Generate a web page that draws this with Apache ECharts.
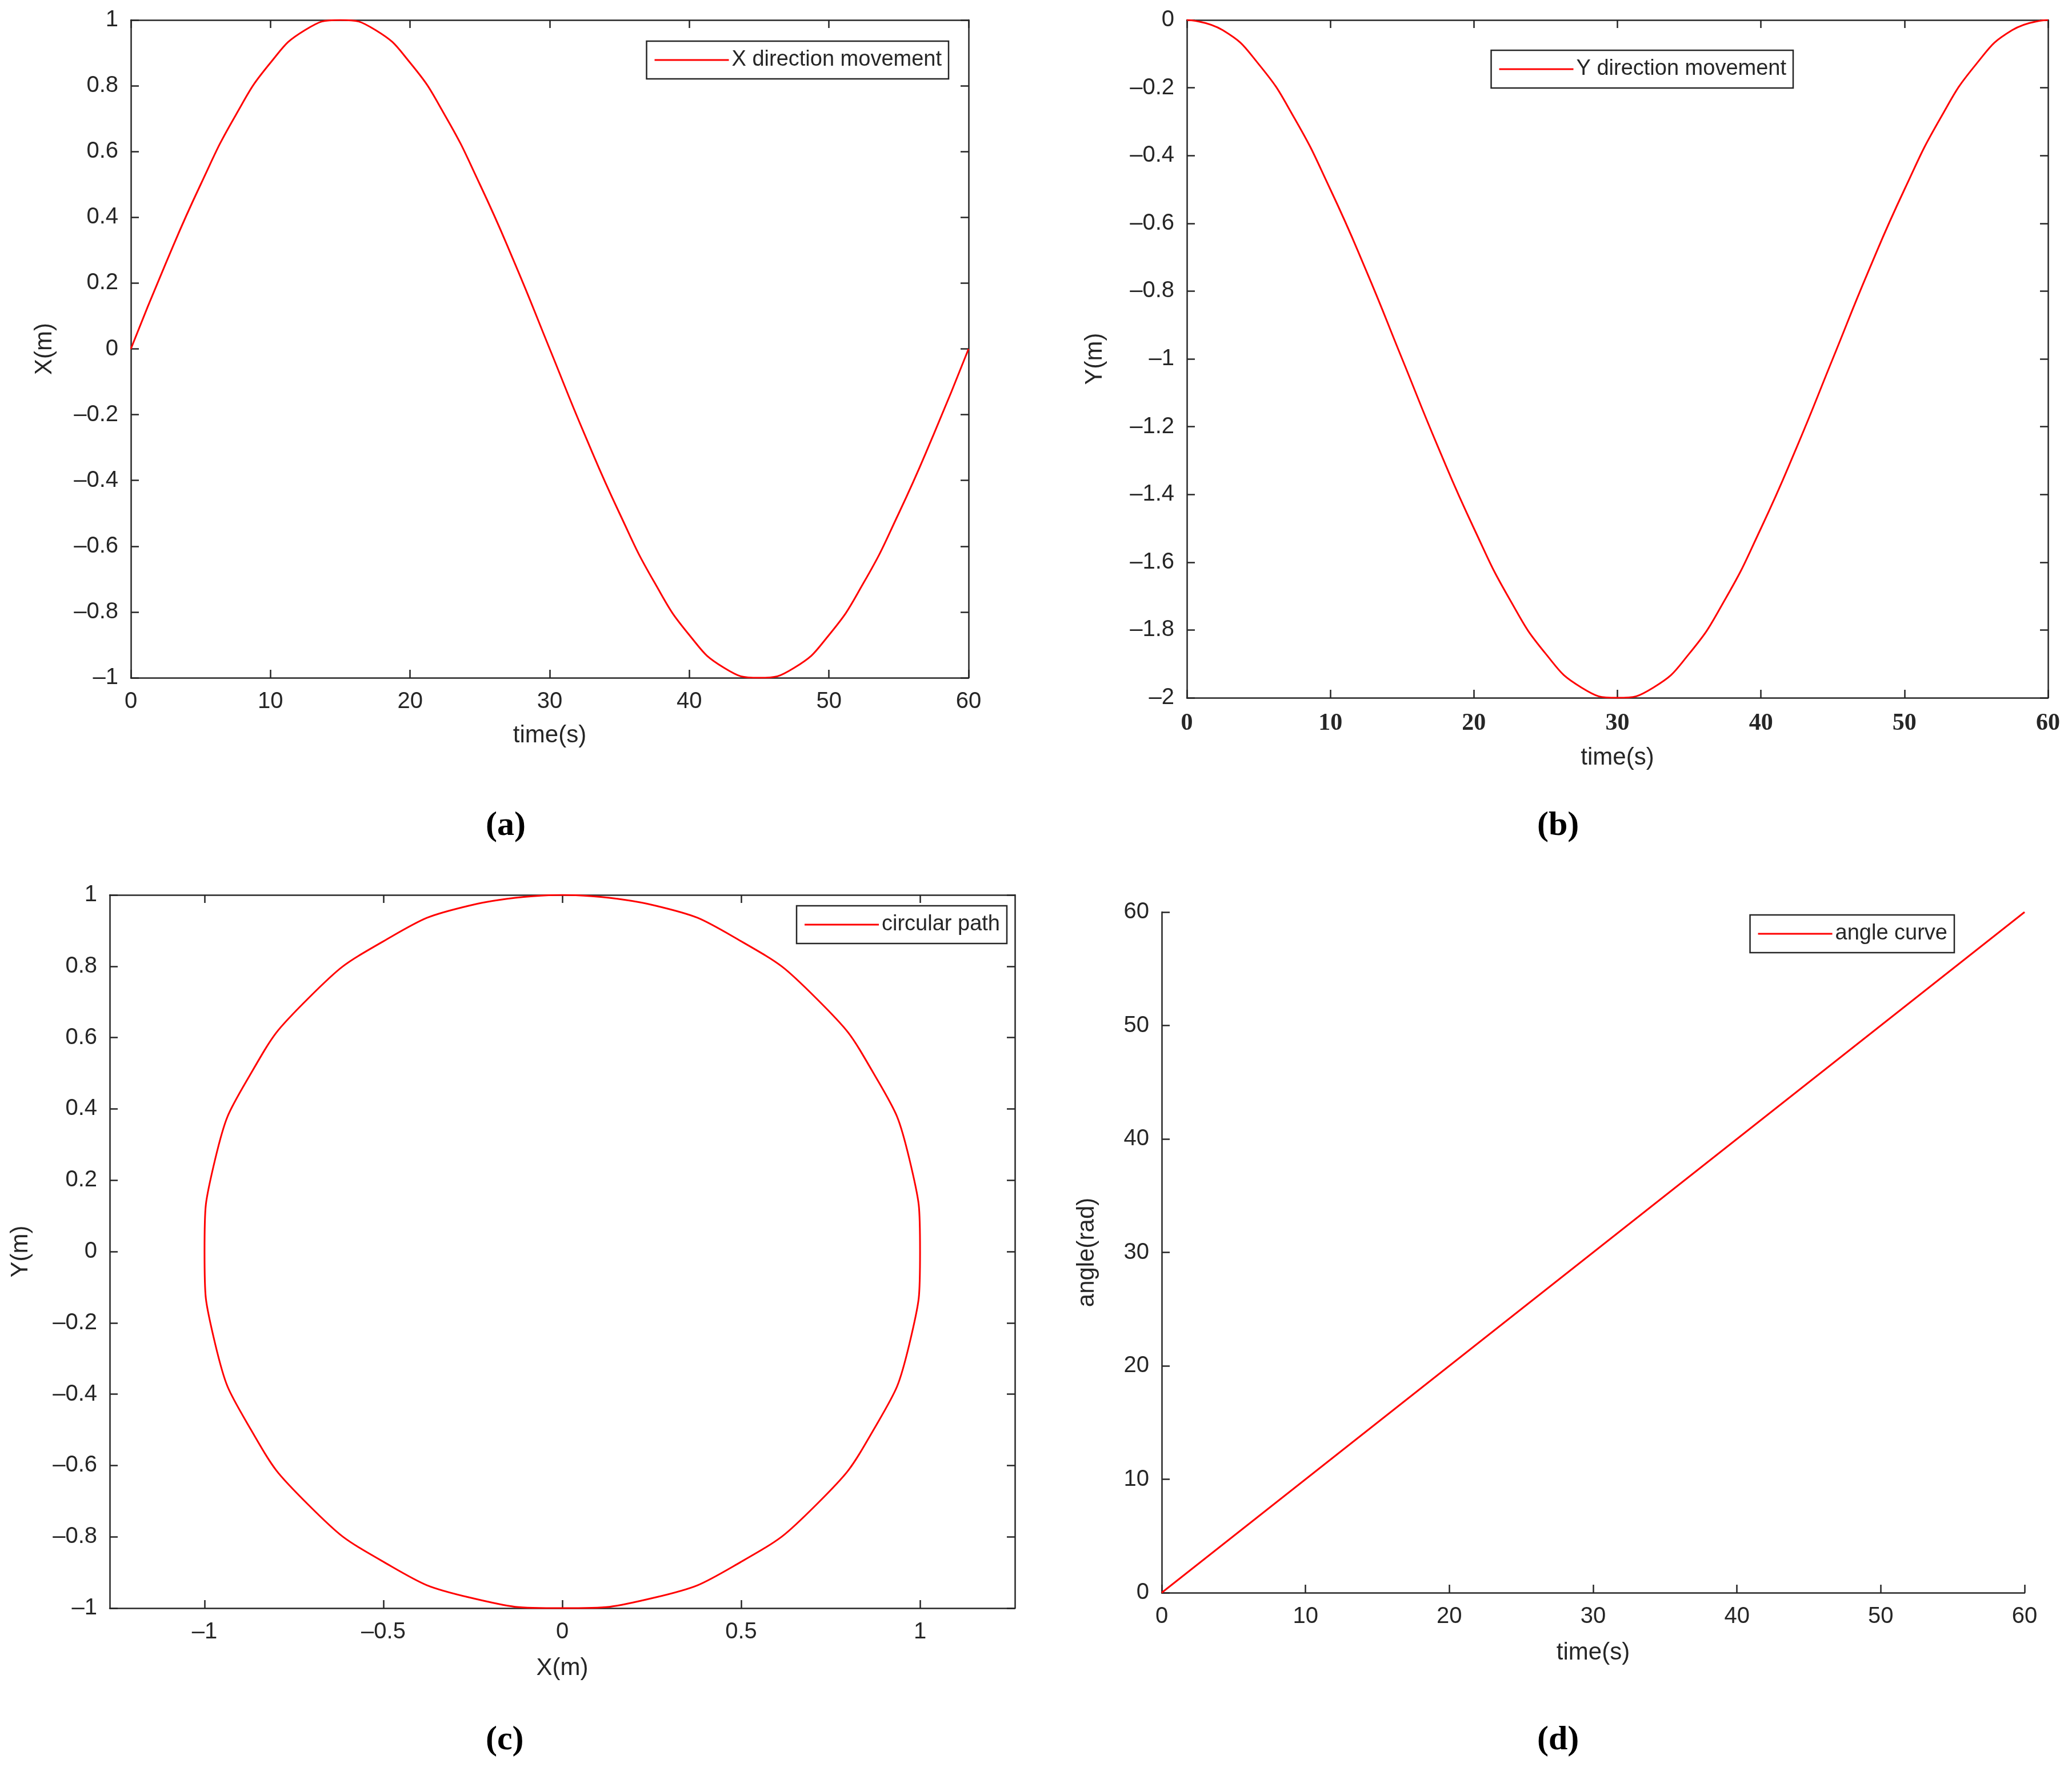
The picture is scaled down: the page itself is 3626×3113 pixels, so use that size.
<!DOCTYPE html>
<html><head><meta charset="utf-8">
<script src="https://cdn.jsdelivr.net/npm/echarts@6/dist/echarts.min.js"></script>
<style>html,body{margin:0;background:#fff}#c{width:3626px;height:3113px}</style>
</head><body><div id="c"></div>
<script>
// values
var timeS = [0,2.5,5,7.5,10,12.5,15,17.5,20,22.5,25,27.5,30,32.5,35,37.5,40,42.5,45,47.5,50,52.5,55,57.5,60];
var xMove = [0,0.26,0.5,0.71,0.87,0.97,1,0.97,0.87,0.71,0.5,0.26,0,-0.26,-0.5,-0.71,-0.87,-0.97,-1,-0.97,-0.87,-0.71,-0.5,-0.26,0];
var yMove = [0,-0.03,-0.13,-0.29,-0.5,-0.74,-1,-1.26,-1.5,-1.71,-1.87,-1.97,-2,-1.97,-1.87,-1.71,-1.5,-1.26,-1,-0.74,-0.5,-0.29,-0.13,-0.03,0];
var circX = [0,0.26,0.5,0.71,0.87,0.97,1,0.97,0.87,0.71,0.5,0.26,0,-0.26,-0.5,-0.71,-0.87,-0.97,-1,-0.97,-0.87,-0.71,-0.5,-0.26,0];
var circY = [1,0.97,0.87,0.71,0.5,0.26,0,-0.26,-0.5,-0.71,-0.87,-0.97,-1,-0.97,-0.87,-0.71,-0.5,-0.26,0,0.26,0.5,0.71,0.87,0.97,1];
var angT = [0,60];
var angV = [0,60];

var ax = '#262626', red = '#ff0000';
var font = 'Arial, "Liberation Sans", sans-serif';
function fmt(v){ v = Math.round(v*100)/100; return v < 0 ? '\u2013' + (-v) : '' + v; }
function pair(arrA, arrB){ return arrA.map(function(a,i){ return [a, arrB[i]]; }); }

function mainAxis(gi, o){
    var base = {
        type:'value', gridIndex:gi, splitLine:{show:false},
        axisLine:{onZero:false, lineStyle:{color:ax, width:2.5}},
        axisTick:{inside:true, length:14, lineStyle:{color:ax, width:2.5}},
        axisLabel:{color:ax, fontSize:40, fontFamily:font, formatter:fmt, margin:22},
        nameTextStyle:{color:ax, fontSize:42, fontFamily:font},
        nameLocation:'middle'
    };
    return Object.assign(base, o);
}
function boxAxis(gi, o){
    return Object.assign({
        type:'value', gridIndex:gi, splitLine:{show:false},
        axisLine:{onZero:false, lineStyle:{color:ax, width:2.5}},
        axisTick:{inside:true, length:14, lineStyle:{color:ax, width:2.5}},
        axisLabel:{show:false}
    }, o);
}
function legend(name, right, top){
    return {data:[name], right:right, top:top, orient:'vertical',
        icon:'rect', itemWidth:130, itemHeight:3, itemGap:10,
        borderColor:ax, borderWidth:2.5, padding:[14,12,14,14],
        textStyle:{color:ax, fontSize:38, fontFamily:font}};
}
function line(name, data, xi, smooth){
    return {name:name, type:'line', xAxisIndex:xi, yAxisIndex:xi, data:data,
        symbol:'none', smooth:smooth, lineStyle:{color:red, width:3}, itemStyle:{color:red}};
}
var tickBold = {color:ax, fontSize:42, fontFamily:'"Liberation Serif", serif', fontWeight:'bold', formatter:fmt, margin:24};

var option = {
    backgroundColor:'#fff',
    animation:false,
    grid:[
        {left:229, width:1466, top:35, height:1151},
        {left:2077, width:1507, top:35, height:1186},
        {left:192, width:1584, top:1566, height:1248},
        {left:2033, width:1510, top:1596, height:1191}
    ],
    xAxis:[
        mainAxis(0,{min:0,max:60,interval:10,name:'time(s)',nameGap:80}),
        mainAxis(1,{min:0,max:60,interval:10,name:'time(s)',nameGap:84,axisLabel:tickBold}),
        mainAxis(2,{min:-1.265,max:1.265,name:'X(m)',nameGap:84,
            axisTick:{inside:true,length:14,lineStyle:{color:ax,width:2.5},customValues:[-1,-0.5,0,0.5,1]},
            axisLabel:{color:ax,fontSize:40,fontFamily:font,formatter:fmt,margin:22,customValues:[-1,-0.5,0,0.5,1]}}),
        mainAxis(3,{min:0,max:60,interval:10,name:'time(s)',nameGap:84}),
        boxAxis(0,{position:'top',min:0,max:60,interval:10}),
        boxAxis(1,{position:'top',min:0,max:60,interval:10}),
        boxAxis(2,{position:'top',min:-1.265,max:1.265,axisTick:{inside:true,length:14,lineStyle:{color:ax,width:2.5},customValues:[-1,-0.5,0,0.5,1]}})
    ],
    yAxis:[
        mainAxis(0,{min:-1,max:1,interval:0.2,name:'X(m)',nameGap:130}),
        mainAxis(1,{min:-2,max:0,interval:0.2,name:'Y(m)',nameGap:140}),
        mainAxis(2,{min:-1,max:1,interval:0.2,name:'Y(m)',nameGap:135}),
        mainAxis(3,{min:0,max:60,interval:10,name:'angle(rad)',nameGap:110}),
        boxAxis(0,{position:'right',min:-1,max:1,interval:0.2}),
        boxAxis(1,{position:'right',min:-2,max:0,interval:0.2}),
        boxAxis(2,{position:'right',min:-1,max:1,interval:0.2})
    ],
    legend:[
        legend('X direction movement', 1966, 72),
        legend('Y direction movement', 488, 88),
        legend('circular path', 1864, 1585),
        legend('angle curve', 206, 1601)
    ],
    series:[
        line('X direction movement', pair(timeS, xMove), 0, true),
        line('Y direction movement', pair(timeS, yMove), 1, true),
        line('circular path', pair(circX, circY), 2, true),
        line('angle curve', pair(angT, angV), 3, false)
    ],
    graphic:[
        {type:'text', left:850, top:1415, style:{text:'(a)', font:'bold 60px "Liberation Serif", serif', fill:'#000'}},
        {type:'text', left:2690, top:1415, style:{text:'(b)', font:'bold 60px "Liberation Serif", serif', fill:'#000'}},
        {type:'text', left:850, top:3015, style:{text:'(c)', font:'bold 60px "Liberation Serif", serif', fill:'#000'}},
        {type:'text', left:2690, top:3015, style:{text:'(d)', font:'bold 60px "Liberation Serif", serif', fill:'#000'}}
    ]
};
// the box axes have no series; bind them to the main grids' ranges
echarts.init(document.getElementById('c')).setOption(option);
</script>
</body></html>
